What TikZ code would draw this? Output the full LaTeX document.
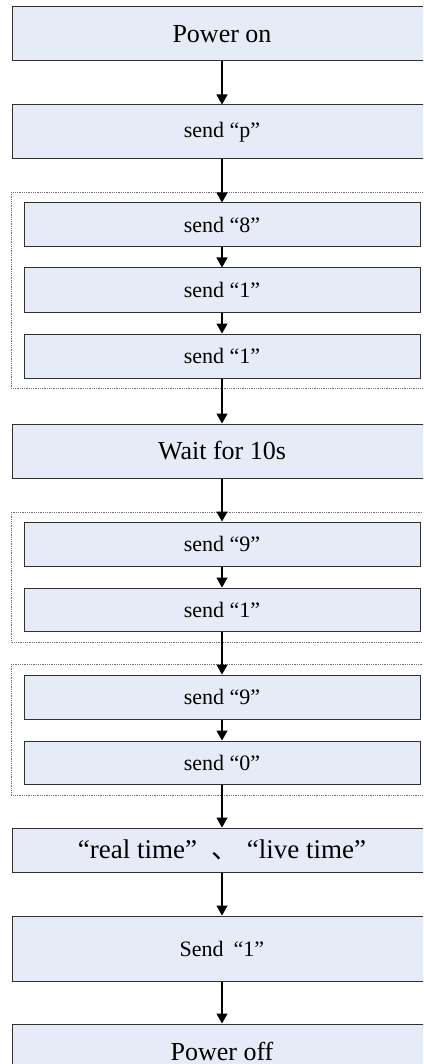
\documentclass[tikz,border=0pt]{standalone}
\usepackage{fontspec}
\setmainfont{Liberation Serif}
\newfontfamily\cjk{Noto Sans CJK SC}
\usetikzlibrary{arrows.meta}
\definecolor{boxfill}{HTML}{E5ECF7}
\definecolor{boxline}{HTML}{303030}
\definecolor{grpline}{HTML}{707070}
\tikzset{
  bigbox/.style={draw=boxline, fill=boxfill, line width=1pt, rectangle, minimum width=420pt, minimum height=54pt, inner sep=0pt, font=\fontsize{26}{30}\selectfont},
  smallbox/.style={draw=boxline, fill=boxfill, line width=1pt, rectangle, minimum width=396pt, minimum height=44pt, inner sep=0pt, font=\fontsize{22}{26}\selectfont},
  grp/.style={draw=grpline, densely dotted, line width=0.8pt},
  flow/.style={line width=1.3pt, -{Triangle[length=10pt,width=11pt]}}
}
\begin{document}
\begin{tikzpicture}[x=1pt,y=1pt]
\useasboundingbox (0,0) rectangle (423,-1064);
\clip (0,0) rectangle (423,-1064);
\fill[white] (0,0) rectangle (423,-1064);
% dotted groups
\draw[grp] (11,-192) rectangle (433,-388);
\draw[grp] (11,-512) rectangle (433,-642);
\draw[grp] (11,-664) rectangle (433,-795);
% nodes
\node[bigbox] (pon) at (222,-34) {Power on};
\node[bigbox, font=\fontsize{22}{26}\selectfont] (sp) at (222,-132) {send “p”};
\node[smallbox] (s8) at (222,-225) {send “8”};
\node[smallbox] (s1a) at (222,-290) {send “1”};
\node[smallbox] (s1b) at (222,-356) {send “1”};
\node[bigbox] (wait) at (222,-451) {Wait for 10s};
\node[smallbox] (s9a) at (222,-544) {send “9”};
\node[smallbox, minimum height=43pt] (s1c) at (222,-609.5) {send “1”};
\node[smallbox] (s9b) at (222,-697) {send “9”};
\node[smallbox, minimum height=43pt] (s0) at (222,-762.5) {send “0”};
\node[bigbox, minimum height=44pt, font=\fontsize{27}{30}\selectfont] (rt) at (222,-850) {“real time”\hspace{15pt}{\cjk 、}\hspace{8pt}“live time”};
\node[bigbox, minimum height=65pt, font=\fontsize{22}{26}\selectfont] (snd) at (222,-948.5) {Send\hspace{10pt}“1”};
\node[bigbox] (poff) at (222,-1051) {Power off};
% connectors
\draw[flow] (pon) -- (sp);
\draw[flow] (sp) -- (s8);
\draw[flow] (s8) -- (s1a);
\draw[flow] (s1a) -- (s1b);
\draw[flow] (s1b) -- (wait);
\draw[flow] (wait) -- (s9a);
\draw[flow] (s9a) -- (s1c);
\draw[flow] (s1c) -- (s9b);
\draw[flow] (s9b) -- (s0);
\draw[flow] (s0) -- (rt);
\draw[flow] (rt) -- (snd);
\draw[flow] (snd) -- (poff);
\end{tikzpicture}
\end{document}
